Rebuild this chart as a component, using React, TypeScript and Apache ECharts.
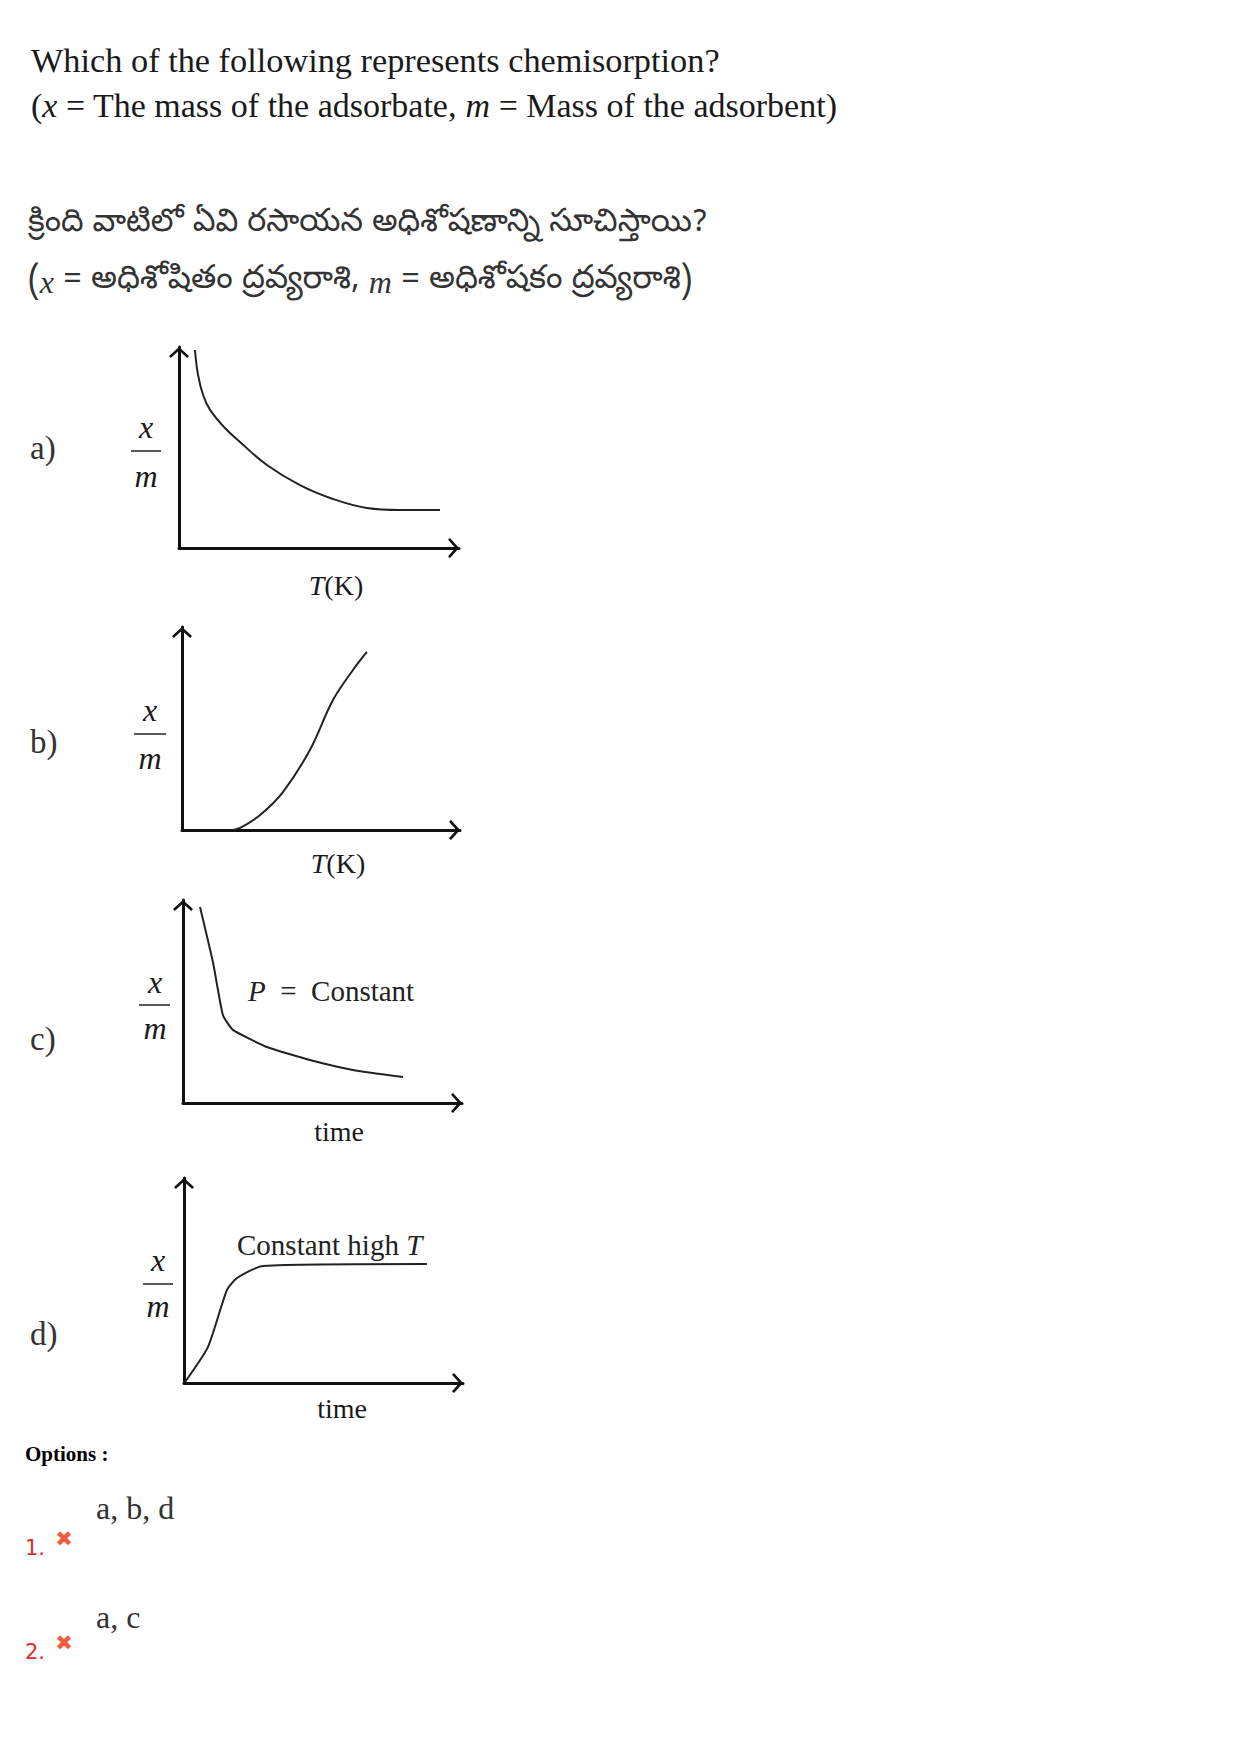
import React, { useEffect, useRef } from 'react';
import * as echarts from 'echarts';

// ---- text content ----
const questionEn = 'Which of the following represents chemisorption?';
const questionTe = 'క్రింది వాటిలో ఏవి రసాయన అధిశోషణాన్ని సూచిస్తాయి?';
const panelLabels = ['a)', 'b)', 'c)', 'd)'];
const xAxisTitles = ['{i|T}(K)', '{i|T}(K)', 'time', 'time'];
const NB = '\u00a0';
const panelNotes = ['', '', `{i|P}${NB}${NB}=${NB}${NB}Constant`, 'Constant high {i|T}'];
const optionNumbers = ['1.', '2.'];
const optionTexts = ['a, b, d', 'a, c'];

// ---- curve values (axis units 0..100) ----
const curveA = [[5.7, 98.5], [6.8, 86.1], [8.6, 76.1], [11.1, 68.7], [16.4, 59.7], [21.8, 52.7], [31.4, 41.3], [43.2, 31.3], [55, 24.4], [67.1, 19.9], [78.9, 18.9], [93.2, 18.9]];
const curveB = [[18.3, 0], [20.9, 1], [28.1, 7.4], [36.3, 18.7], [46, 39.4], [54.3, 64], [61.5, 78.8], [66.5, 87.7]];
const curveC = [[6.1, 96.6], [10.8, 69], [14.3, 43.3], [17.9, 36], [30.1, 27.6], [45.5, 21.2], [60.9, 16.3], [78.9, 12.8]];
const curveD = [[0.4, 0.5], [8.6, 17.6], [15.4, 45.4], [19, 51.2], [28.3, 57.1], [87.1, 58]];
const curves = [curveA, curveB, curveC, curveD];
const smoothness = [0.4, 0.35, 0.15, 0.2];

// ---- layout ----
const grids = [
  { left: 179, top: 347, width: 280, height: 201 },
  { left: 182, top: 627, width: 278, height: 203 },
  { left: 183, top: 900, width: 279, height: 203 },
  { left: 184, top: 1178, width: 279, height: 205 },
];
const labelY = [448, 742, 1039, 1334];
const fracX = [146, 150, 155, 158];
const fracLine = [[131, 161, 451], [134, 166, 734], [139, 170, 1005], [143, 173, 1284]];
const fracXY = [427, 710, 982, 1260];
const fracMY = [476, 758, 1028, 1306];
const titlePos = [[336, 585], [338, 863], [339, 1131], [342, 1408]];
const notePos = [null, null, [248, 991], [237, 1245]];

const SERIF = "'Liberation Serif', 'Times New Roman', serif";
const TELUGU = "'Noto Sans Telugu', 'Noto Sans', sans-serif";
const ARROW = 'path://M10,0 L20,9 L18.2,11 L10,3.6 L1.8,11 L0,9 Z';

function axis(gridIndex: number) {
  return {
    gridIndex,
    type: 'value',
    min: 0,
    max: 100,
    axisLine: {
      show: true,
      onZero: false,
      symbol: ['none', ARROW],
      symbolSize: [20, 11],
      symbolOffset: [0, -5.5],
      lineStyle: { color: '#111', width: 3 },
    },
    axisTick: { show: false },
    axisLabel: { show: false },
    splitLine: { show: false },
  };
}

function txt(x: number, y: number, text: string, fontSize: number, extra: any = {}) {
  const { align = 'left', fill = '#1a1a1a', fontFamily = SERIF, fontWeight = 'normal', fontStyle = 'normal', rich } = extra;
  const style: any = { text, x: 0, y: 0, fontSize, fontFamily, fill, align, verticalAlign: 'middle', fontWeight, fontStyle };
  if (rich) style.rich = rich;
  return { type: 'text', x, y, silent: true, style };
}

function italicRich(fontSize: number, fill = '#1a1a1a') {
  return { i: { fontStyle: 'italic', fontSize, fontFamily: SERIF, fill } };
}

export default function App() {
  const ref = useRef<HTMLDivElement>(null);
  useEffect(() => {
    if (!ref.current) return;
    const chart = echarts.init(ref.current, null, { renderer: 'svg' });
    const elements: any[] = [];
    elements.push(txt(31, 60, questionEn, 34.3));
    elements.push(txt(31, 105, '({i|x} = The mass of the adsorbate, {i|m} = Mass of the adsorbent)', 34, { rich: italicRich(34) }));
    elements.push(txt(28, 224, questionTe, 32, { fontFamily: TELUGU, fill: '#333' }));
    elements.push(txt(28, 282, '({i|x} = అధిశోషితం ద్రవ్యరాశి, {i|m} = అధిశోషకం ద్రవ్యరాశి)', 32.5, {
      fontFamily: TELUGU, fill: '#333', rich: italicRich(32, '#333'),
    }));
    panelLabels.forEach((lab, i) => {
      elements.push(txt(30, labelY[i], lab, 33, { fill: '#333' }));
      elements.push(txt(fracX[i], fracXY[i], 'x', 32, { fontStyle: 'italic', align: 'center' }));
      elements.push(txt(fracX[i], fracMY[i], 'm', 32, { fontStyle: 'italic', align: 'center' }));
      const [x1, x2, y] = fracLine[i];
      elements.push({ type: 'line', silent: true, shape: { x1, y1: y, x2, y2: y }, style: { stroke: '#222', lineWidth: 1.5 } });
      const [tx, ty] = titlePos[i];
      elements.push(txt(tx, ty, xAxisTitles[i], 28, { align: 'center', rich: italicRich(28) }));
      const np = notePos[i];
      if (np && panelNotes[i]) {
        elements.push(txt(np[0], np[1], panelNotes[i], 29, { rich: italicRich(29, '#222'), fill: '#222' }));
      }
    });
    elements.push(txt(25, 1454, 'Options :', 21, { fontWeight: 'bold', fill: '#000' }));
    const optY = [1508, 1617];
    const numY = [1548, 1652];
    optionTexts.forEach((t, i) => {
      elements.push(txt(96, optY[i], t, 32, { fill: '#333' }));
      elements.push(txt(25, numY[i], optionNumbers[i], 21, { fill: '#d9302c', fontFamily: "'DejaVu Sans', sans-serif" }));
      elements.push(txt(64, numY[i] - 9, '✖', 21, { fill: '#ee5f3f', align: 'center', fontFamily: "'DejaVu Sans', sans-serif" }));
    });

    chart.setOption({
      animation: false,
      backgroundColor: '#ffffff',
      grid: grids.map((g) => ({ ...g, containLabel: false })),
      xAxis: grids.map((_, i) => axis(i)),
      yAxis: grids.map((_, i) => axis(i)),
      series: curves.map((data, i) => ({
        type: 'line',
        xAxisIndex: i,
        yAxisIndex: i,
        data,
        smooth: smoothness[i],
        showSymbol: false,
        symbol: 'none',
        silent: true,
        lineStyle: { color: '#222', width: 2 },
      })),
      graphic: { elements },
    });
    return () => chart.dispose();
  }, []);
  return <div ref={ref} style={{ position: 'absolute', left: 0, top: 0, width: 1240, height: 1755, background: '#fff' }} />;
}
